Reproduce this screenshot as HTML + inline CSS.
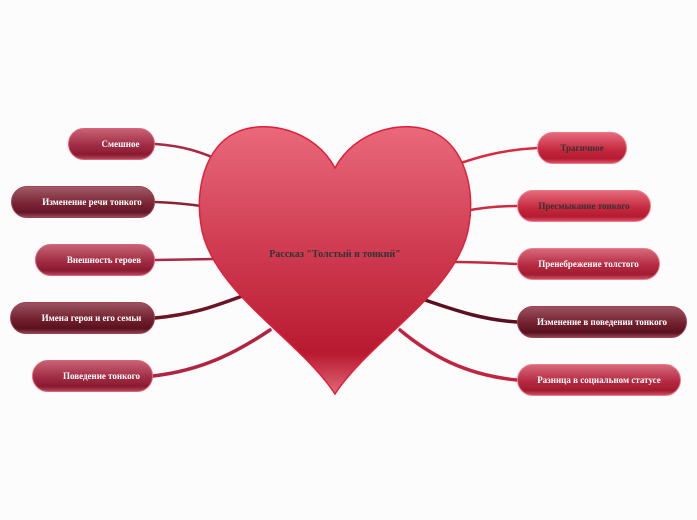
<!DOCTYPE html>
<html><head><meta charset="utf-8"><style>
body{margin:0;background:#fdfcfd;width:697px;height:520px;overflow:hidden;font-family:"Liberation Serif",serif}
.n{position:absolute;height:32px;border-radius:16px;font-weight:bold;font-size:9px;display:flex;align-items:center;justify-content:center;box-sizing:border-box;border:1px solid #e0607a}
.L{padding-left:18px}
.a{background:linear-gradient(#c76274,#a02c44 55%,#8a1a30 85%,#b0485c);color:#fff}
.d{background:linear-gradient(#9a5260,#72202f 55%,#5a101e 85%,#8a4050);color:#fff;border-color:#a04050}
.r{background:linear-gradient(#e66a7c,#c62a40 55%,#b41a30 85%,#d85066);color:#333;border-color:#f07a8a}
.rw{background:linear-gradient(#d6687a,#b52a42 55%,#a11a30 85%,#c8506a);color:#fff;border-color:#f07a8a}
</style></head><body>
<svg width="697" height="520" style="position:absolute;left:0;top:0">
<defs><linearGradient id="h" x1="0" y1="0" x2="0" y2="1">
<stop offset="0" stop-color="#e9697b"/><stop offset="0.45" stop-color="#d03c52"/><stop offset="0.85" stop-color="#b81a30"/><stop offset="1" stop-color="#e0687a"/></linearGradient></defs>
<g fill="none" stroke-linecap="round">
<path d="M155,144 C185,146 200,152 225,162" stroke="#a82a44" stroke-width="2.5"/>
<path d="M155,202 C180,203 195,205 215,208" stroke="#8a2434" stroke-width="2.5"/>
<path d="M155,260 L215,259" stroke="#a82a44" stroke-width="2.5"/>
<path d="M155,318 C195,314 215,306 245,295" stroke="#6a1424" stroke-width="3.5"/>
<path d="M153,376 C205,370 240,350 270,330" stroke="#b02440" stroke-width="3.5"/>
<path d="M537,148 C500,150 475,158 455,165" stroke="#d82a40" stroke-width="2.5"/>
<path d="M517,206 C495,206 480,208 465,211" stroke="#d02a40" stroke-width="2.5"/>
<path d="M517,264 C495,263 475,262 455,262" stroke="#c02a40" stroke-width="2.5"/>
<path d="M517,322 C485,320 460,312 425,300" stroke="#5a1020" stroke-width="3.5"/>
<path d="M517,380 C465,375 430,355 400,330" stroke="#c02440" stroke-width="3.5"/>
</g>
<path d="M335,168 C315,130 265,118 235,133 C205,148 195,190 201,225 C210,290 300,340 335,394 C370,340 460,290 469,225 C475,190 465,148 435,133 C405,118 355,130 335,168 Z" fill="url(#h)" stroke="#e0203a" stroke-width="1.5"/>
<text x="335" y="257" text-anchor="middle" font-family="Liberation Serif, serif" font-weight="bold" font-size="10" fill="#333">Рассказ "Толстый и тонкий"</text>
</svg>
<div class="n a L" style="left:68px;top:128px;width:87px">Смешное</div>
<div class="n d L" style="left:11px;top:186px;width:144px;background:linear-gradient(#a05a68,#7a2434 55%,#66162a 85%,#94485a)">Изменение речи тонкого</div>
<div class="n a L" style="left:35px;top:244px;width:120px">Внешность героев</div>
<div class="n d L" style="left:10px;top:302px;width:145px">Имена героя и его семьи</div>
<div class="n a L" style="left:32px;top:360px;width:121px">Поведение тонкого</div>
<div class="n r" style="left:537px;top:132px;width:90px">Трагичное</div>
<div class="n r" style="left:517px;top:190px;width:134px">Пресмыкание тонкого</div>
<div class="n rw" style="left:517px;top:248px;width:143px">Пренебрежение толстого</div>
<div class="n d" style="left:517px;top:306px;width:170px">Изменение в поведении тонкого</div>
<div class="n rw" style="left:517px;top:364px;width:164px">Разница в социальном статусе</div>
</body></html>
